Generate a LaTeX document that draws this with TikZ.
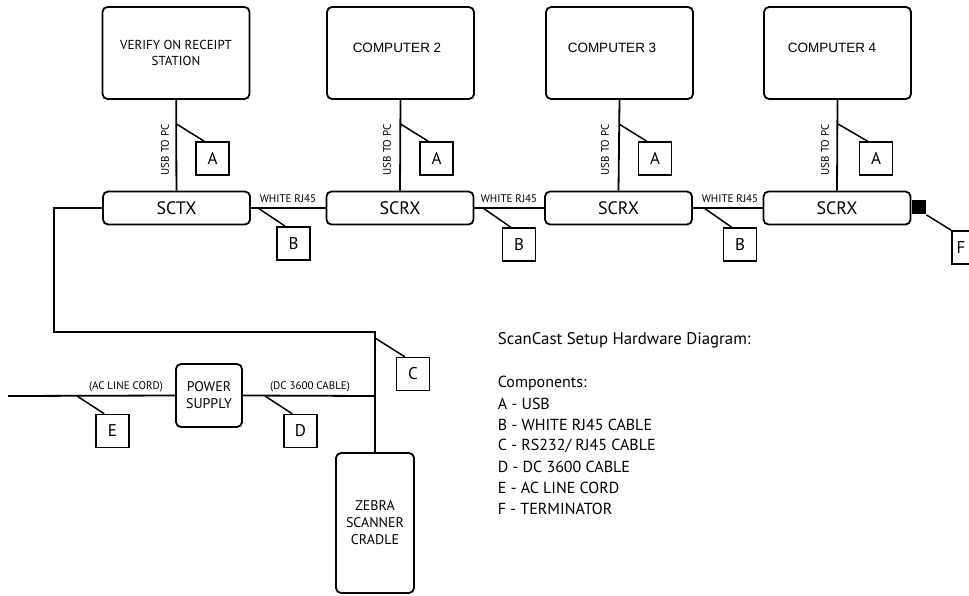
\documentclass[tikz,border=0pt]{standalone}
\usepackage{fontspec}
\setmainfont{PT Sans}
\newfontfamily\arialfont{Liberation Sans}
\begin{document}
\begin{tikzpicture}[x=1pt,y=-1pt,line width=1.8pt,
    unit/.style={draw,rounded corners=5pt,inner sep=0pt,align=center},
    pcbox/.style={unit,minimum width=147pt,minimum height=92pt},
    busbox/.style={unit,minimum width=147pt,minimum height=33pt,font=\fontsize{18}{18}\selectfont},
    pctext/.style={inner sep=0pt,font=\arialfont\fontsize{13.5}{13.5}\selectfont},
    tag/.style={draw,line width=1.5pt,minimum size=33pt,inner sep=0pt,font=\fontsize{17}{17}\selectfont},
    cable/.style={inner sep=0pt,font=\fontsize{11}{11}\selectfont},
    legend/.style={anchor=west,inner sep=0pt,font=\fontsize{16}{16}\selectfont}]
  \useasboundingbox (0,0) rectangle (969,595);
  \draw
    (176,53) node[pcbox,font=\fontsize{13}{15.5}\selectfont] (pc1){VERIFY ON RECEIPT\\STATION}
    (400.5,53) node[pcbox] (pc2){}
    (619.5,53) node[pcbox] (pc3){}
    (837.5,53) node[pcbox] (pc4){}
    (397,48) node[pctext] (pc2txt){COMPUTER 2}
    (612,48) node[pctext] (pc3txt){COMPUTER 3}
    (832,48) node[pctext] (pc4txt){COMPUTER 4};
  \draw
    (176.5,208) node[busbox] (tx){SCTX}
    (400,208) node[busbox] (rx1){SCRX}
    (618.5,208) node[busbox] (rx2){SCRX}
    (837,208) node[busbox] (rx3){SCRX}
    (918.5,207) node[fill,minimum size=14pt,inner sep=0pt] (term){};
  \draw
    (209,395.5) node[unit,minimum width=66pt,minimum height=63pt,font=\fontsize{14}{17}\selectfont] (ps){POWER\\SUPPLY}
    (375,523) node[unit,minimum width=78pt,minimum height=140pt,font=\fontsize{14}{17}\selectfont] (cradle){ZEBRA\\SCANNER\\CRADLE};
  \draw
    (212.5,158.5) node[tag] (a1){A}
    (436.5,158.5) node[tag] (a2){A}
    (655,158.5) node[tag] (a3){A}
    (876,158.5) node[tag] (a4){A}
    (293.5,243.5) node[tag] (b1){B}
    (519,244.5) node[tag] (b2){B}
    (740,244.5) node[tag] (b3){B}
    (413,374) node[tag] (c){C}
    (300.5,431) node[tag] (d){D}
    (112.5,431) node[tag] (e){E}
    (968.5,247.5) node[tag] (fbox){};
  \draw (961,248) node[inner sep=0pt,font=\fontsize{17}{17}\selectfont] (f){F};
  \draw
    (165,150) node[cable,rotate=90] (usb1){USB TO PC}
    (387,150) node[cable,rotate=90] (usb2){USB TO PC}
    (605,150) node[cable,rotate=90] (usb3){USB TO PC}
    (825,150) node[cable,rotate=90] (usb4){USB TO PC}
    (288,199) node[cable] (rj1){WHITE RJ45}
    (509,199) node[cable] (rj2){WHITE RJ45}
    (730,199) node[cable] (rj3){WHITE RJ45}
    (126,387) node[cable] (ac){(AC LINE CORD)}
    (310,387) node[cable] (dc){(DC 3600 CABLE)};
  \draw
    (497,340) node[legend,font=\fontsize{16.8}{16.8}\selectfont] (title){ScanCast Setup Hardware Diagram:}
    (497,383) node[legend] (comp){Components:}
    (497,404) node[legend] (la){A - USB}
    (497,425) node[legend] (lb){B - WHITE RJ45 CABLE}
    (497,446) node[legend] (lc){C - RS232/ RJ45 CABLE}
    (497,467) node[legend] (ld){D - DC 3600 CABLE}
    (497,488) node[legend] (le){E - AC LINE CORD}
    (497,509) node[legend] (lf){F - TERMINATOR};
  \coordinate (ua1) at (176.5,124);
  \coordinate (ua2) at (400.5,124);
  \coordinate (ua3) at (619,124);
  \coordinate (ua4) at (838,124);
  \coordinate (ub1) at (258,208);
  \coordinate (ub2) at (483,208);
  \coordinate (ub3) at (704,208);
  \coordinate (bend) at (54,332);
  \coordinate (tee) at (375,332);
  \coordinate (uc) at (375,338);
  \coordinate (mains) at (8,396);
  \coordinate (dcin) at (375,396);
  \coordinate (ue) at (77,396);
  \coordinate (ud) at (265,396);
  \begin{scope}[-]
    \draw (pc1) to (tx);
    \draw (pc2.south) to (rx1.north);
    \draw (pc3.south) to (rx2.north);
    \draw (pc4.south) to (rx3.north);
    \draw (tx) to (rx1);
    \draw (rx1) to (rx2);
    \draw (rx2) to (rx3);
    \draw (tx.west) -| (bend) -- (tee) -- (cradle.north);
    \draw (mains) -- (ps.west);
    \draw (ps.east) -- (dcin);
  \end{scope}
  \begin{scope}[line width=1.5pt]
    \draw (ua1) to ([xshift=9pt]a1.north west);
    \draw (ua2) to ([xshift=9pt]a2.north west);
    \draw (ua3) to ([xshift=9pt]a3.north west);
    \draw (ua4) to ([xshift=9pt]a4.north west);
    \draw (ub1) to ([xshift=9pt]b1.north west);
    \draw (ub2) to ([xshift=9pt]b2.north west);
    \draw (ub3) to ([xshift=9pt]b3.north west);
    \draw (term.south east) to (fbox.north west);
    \draw (uc) to ([xshift=9pt]c.north west);
    \draw (ud) to ([xshift=9pt]d.north west);
    \draw (ue) to ([xshift=9pt]e.north west);
  \end{scope}
\end{tikzpicture}
\end{document}
